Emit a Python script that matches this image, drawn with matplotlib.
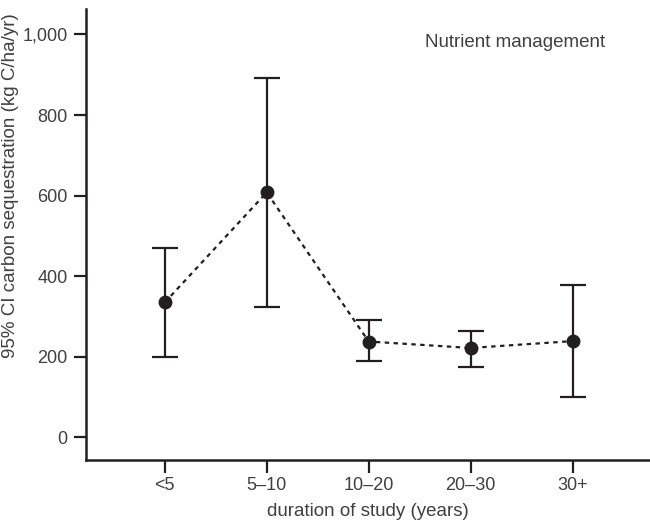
import matplotlib
matplotlib.use("Agg")
import matplotlib.pyplot as plt
from matplotlib.ticker import FuncFormatter

categories = ["<5", "5–10", "10–20", "20–30", "30+"]
means = [335, 608, 238, 222, 239]
lower = [199, 324, 190, 175, 101]
upper = [470, 891, 291, 265, 377]
yticks = [0, 200, 400, 600, 800, 1000]

plt.rcParams['font.family'] = ['Liberation Sans', 'DejaVu Sans']
text_c = '#404040'
ink = '#231f20'

fig = plt.figure(figsize=(6.5, 5.25), dpi=100)
ax = fig.add_axes([0.132, 0.1238, 0.868, 0.859])

x = list(range(len(categories)))
yerr = [[m - l for m, l in zip(means, lower)], [u - m for m, u in zip(means, upper)]]
ax.plot(x, means, linestyle=(0, (2, 2)), color=ink, lw=1.6, zorder=2)
ax.errorbar(x, means, yerr=yerr, fmt='o', color=ink, ecolor=ink, elinewidth=1.6,
            capsize=9.2, capthick=1.6, markersize=9, zorder=3)

ax.set_xlim(-0.775, 4.76)
ax.set_ylim(-56, 1063)
ax.set_xticks(x)
ax.set_xticklabels(categories)
ax.set_yticks(yticks)
ax.yaxis.set_major_formatter(FuncFormatter(lambda v, p: f"{int(v):,}"))

for s in ['top', 'right']:
    ax.spines[s].set_visible(False)
for s in ['left', 'bottom']:
    ax.spines[s].set_linewidth(1.8)
    ax.spines[s].set_color(ink)

ax.tick_params(axis='both', direction='out', length=9, width=1.6, color=ink,
               labelsize=13, labelcolor=text_c)
ax.tick_params(axis='y', pad=4)
ax.tick_params(axis='x', pad=3)

ax.set_xlabel("duration of study (years)", fontsize=13.5, color=text_c, labelpad=7)
ax.set_ylabel("95% CI carbon sequestration (kg C/ha/yr)", fontsize=13.5, color=text_c,
              labelpad=6)
ax.yaxis.set_label_coords(-0.118, 0.609)

ax.text(0.601, 0.925, "Nutrient management", transform=ax.transAxes,
        fontsize=13.5, color=text_c, ha='left', va='center')

fig.savefig("out.png", dpi=100)
